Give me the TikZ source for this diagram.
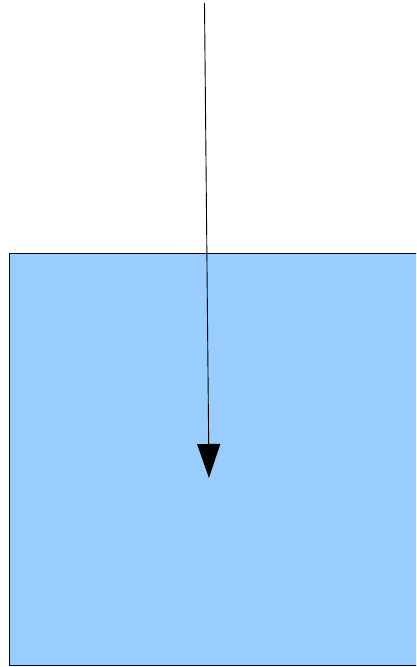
\documentclass[tikz,border=0pt]{standalone}
\usetikzlibrary{arrows.meta}
\definecolor{boxblue}{HTML}{99CCFF}
\tikzset{
  tank/.style={draw=black, fill=boxblue, line width=0.8pt},
  flow/.style={draw=black, line width=0.9pt, -{Triangle[length=34pt,width=23pt]}}
}
\begin{document}
\begin{tikzpicture}[x=1pt,y=-1pt]
\clip (0,0) rectangle (416,667);
\fill[white] (0,0) rectangle (416,667);
\path[tank] (9,253) rectangle (430,665);
\coordinate (box) at (9,253);
\coordinate (src) at (204.5,3);
\coordinate (dst) at (209,478);
\draw[flow] (src) -- (dst);
\end{tikzpicture}
\end{document}
